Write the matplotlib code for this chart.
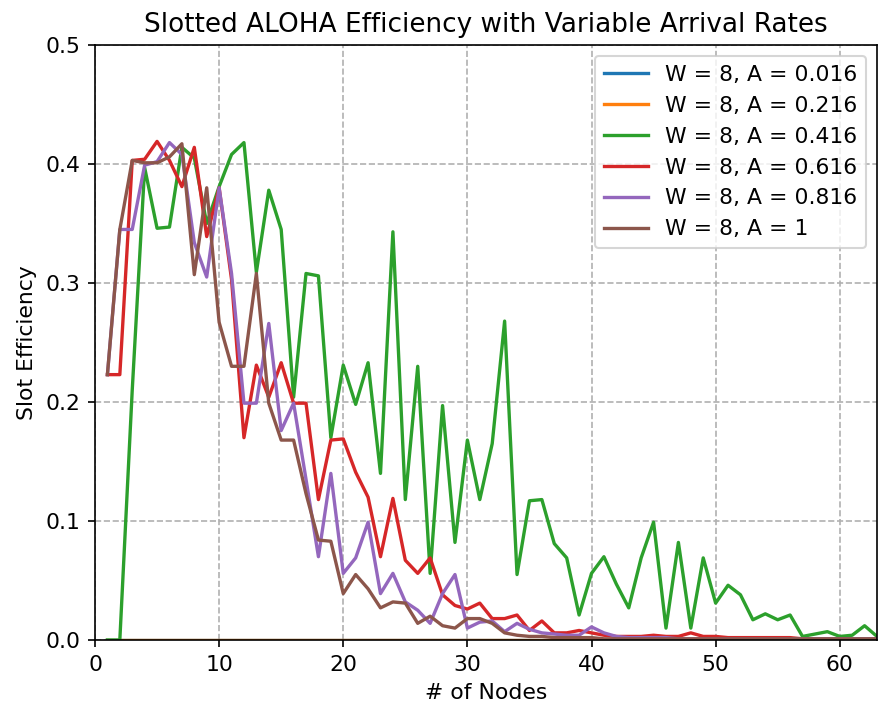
import matplotlib
matplotlib.use("Agg")
import matplotlib.pyplot as plt
import numpy as np

nodes = list(range(1, 64))

labels = ["W = 8, A = 0.016", "W = 8, A = 0.216", "W = 8, A = 0.416",
          "W = 8, A = 0.616", "W = 8, A = 0.816", "W = 8, A = 1"]

eff_a016 = [0.0] * 63
eff_a216 = [0.0] * 63

eff_a416 = [0.0, 0.0, 0.21, 0.397, 0.346, 0.347, 0.414, 0.405, 0.35, 0.381,
            0.408, 0.418, 0.309, 0.378, 0.345, 0.204, 0.308, 0.306, 0.17, 0.231,
            0.198, 0.233, 0.14, 0.343, 0.118, 0.23, 0.056, 0.197, 0.082, 0.168,
            0.118, 0.165, 0.268, 0.055, 0.117, 0.118, 0.081, 0.069, 0.021, 0.056,
            0.070, 0.047, 0.027, 0.069, 0.099, 0.010, 0.082, 0.010, 0.069, 0.031,
            0.046, 0.038, 0.017, 0.022, 0.017, 0.021, 0.003, 0.005, 0.007, 0.003,
            0.004, 0.012, 0.003]

eff_a616 = [0.223, 0.223, 0.403, 0.404, 0.419, 0.403, 0.381, 0.414, 0.339, 0.380,
            0.303, 0.170, 0.231, 0.204, 0.233, 0.199, 0.199, 0.118, 0.168, 0.169,
            0.141, 0.120, 0.070, 0.119, 0.067, 0.056, 0.069, 0.038, 0.029, 0.026,
            0.031, 0.018, 0.018, 0.021, 0.008, 0.016, 0.006, 0.006, 0.008, 0.006,
            0.004, 0.003, 0.003, 0.003, 0.004, 0.003, 0.003, 0.006, 0.003, 0.003,
            0.002, 0.002, 0.002, 0.002, 0.002, 0.002, 0.001, 0.001, 0.001, 0.001,
            0.001, 0.001, 0.001]

eff_a816 = [0.223, 0.345, 0.345, 0.399, 0.402, 0.418, 0.408, 0.334, 0.305, 0.380,
            0.308, 0.199, 0.199, 0.266, 0.176, 0.199, 0.135, 0.070, 0.140, 0.056,
            0.069, 0.099, 0.039, 0.056, 0.032, 0.025, 0.014, 0.039, 0.055, 0.010,
            0.015, 0.016, 0.007, 0.014, 0.009, 0.006, 0.005, 0.004, 0.004, 0.011,
            0.006, 0.003, 0.002, 0.002, 0.002, 0.002, 0.001, 0.001, 0.001, 0.001,
            0.001, 0.001, 0.001, 0.001, 0.001, 0.001, 0.001, 0.001, 0.001, 0.001,
            0.001, 0.001, 0.001]

eff_a1 = [0.223, 0.345, 0.403, 0.401, 0.401, 0.406, 0.417, 0.307, 0.380, 0.267,
          0.230, 0.230, 0.308, 0.199, 0.168, 0.168, 0.123, 0.084, 0.083, 0.039,
          0.055, 0.043, 0.027, 0.032, 0.031, 0.014, 0.020, 0.012, 0.010, 0.018,
          0.018, 0.014, 0.006, 0.004, 0.003, 0.003, 0.002, 0.002, 0.002, 0.002,
          0.001, 0.001, 0.001, 0.001, 0.001, 0.001, 0.001, 0.001, 0.001, 0.001,
          0.001, 0.001, 0.001, 0.001, 0.001, 0.001, 0.001, 0.001, 0.001, 0.001,
          0.001, 0.001, 0.001]

series = [eff_a016, eff_a216, eff_a416, eff_a616, eff_a816, eff_a1]

dpi = 150
s = 1.05
plt.rcParams.update({
    'font.size': 10 * s,
    'axes.titlesize': 12 * s,
    'axes.labelsize': 10 * s,
    'xtick.labelsize': 10 * s,
    'ytick.labelsize': 10 * s,
    'legend.fontsize': 10 * s,
    'lines.linewidth': 1.6,
})
fig = plt.figure(figsize=(878 / dpi, 708 / dpi), dpi=dpi)
ax = fig.add_axes([95 / 878, 68 / 708, 782 / 878, 595 / 708])

for vals, lab in zip(series, labels):
    ax.plot(nodes, vals, label=lab)

ax.set_xlim(0, 63)
ax.set_ylim(0, 0.5)
ax.set_xticks([0, 10, 20, 30, 40, 50, 60])
ax.set_yticks([0.0, 0.1, 0.2, 0.3, 0.4, 0.5])
ax.grid(True, linestyle='--')
ax.set_title("Slotted ALOHA Efficiency with Variable Arrival Rates")
ax.set_xlabel("# of Nodes")
ax.set_ylabel("Slot Efficiency")
ax.legend(loc="upper right")

fig.savefig("out.png", dpi=dpi)
